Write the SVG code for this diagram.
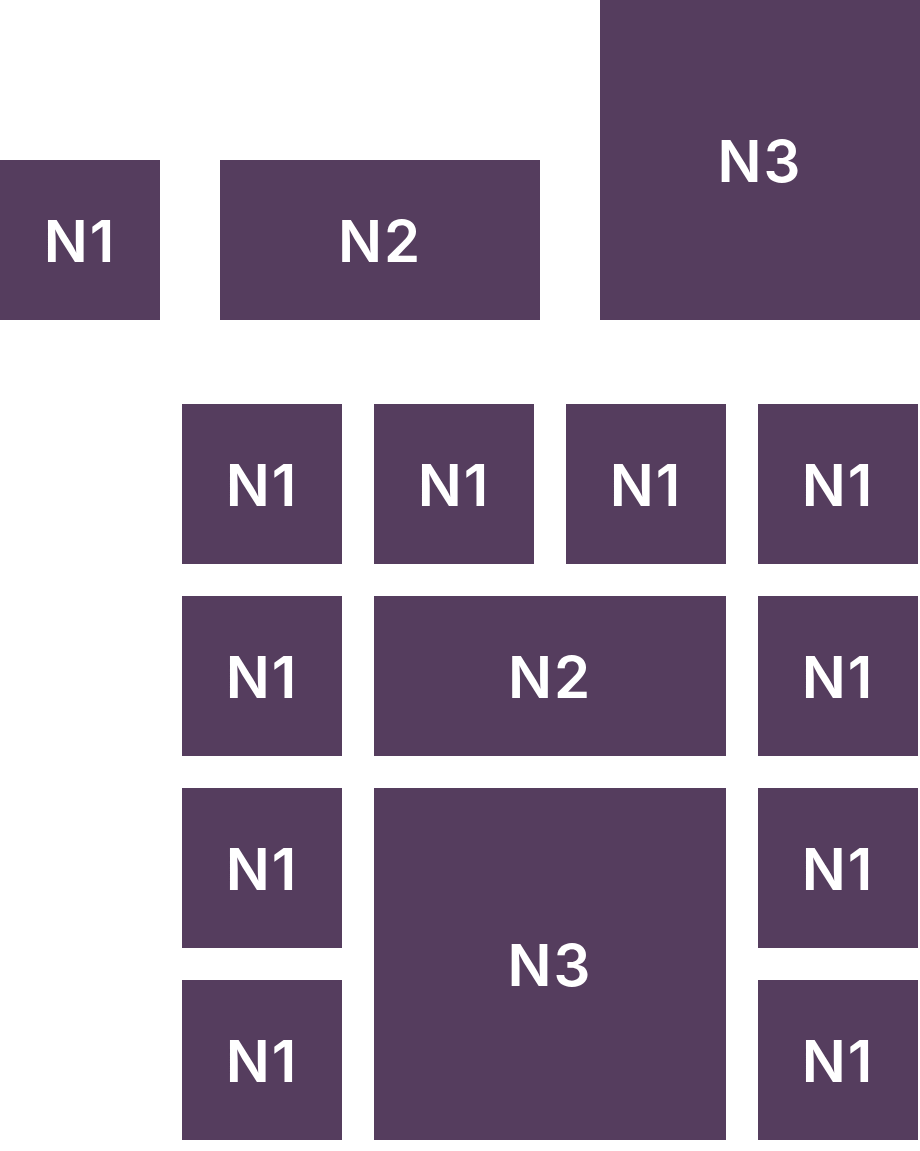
<svg xmlns="http://www.w3.org/2000/svg" width="920" height="1151" viewBox="0 0 920 1151">
<style>
.n{fill:#553D5E}
.t{fill:#fff;font-family:Inter,"Open Sans",sans-serif;font-weight:600;font-size:58px;text-anchor:middle;letter-spacing:2px}
.p{fill:#fff;font-family:Inter,"Open Sans",sans-serif;font-weight:600;font-size:34px}
.b{fill:none;stroke:#fff;stroke-width:2}
</style>
<rect width="920" height="1151" fill="#fff"/>
<g id="labels">
<text class="p" x="36" y="485">P1</text>
<text class="p" x="36" y="677">P2</text>
<text class="p" x="36" y="957">P3</text>
</g>
<g id="braces">
<path class="b" d="M153,394 Q140,396 140,410 L140,540 Q140,556 153,560"/>
<path class="b" d="M153,586 Q140,588 140,602 L140,732 Q140,748 153,752"/>
<path class="b" d="M153,778 Q140,780 140,794 L140,1124 Q140,1140 153,1144"/>
</g>
<g id="top-n1"><rect class="n" x="0" y="160" width="160" height="160"/><text class="t" x="80" y="262">N1</text></g>
<g id="top-n2"><rect class="n" x="220" y="160" width="320" height="160"/><text class="t" x="380" y="262">N2</text></g>
<g id="top-n3"><rect class="n" x="600" y="0" width="320" height="320"/><text class="t" x="760" y="182">N3</text></g>
<g id="r1c1"><rect class="n" x="182" y="404" width="160" height="160"/><text class="t" x="262" y="506">N1</text></g>
<g id="r1c2"><rect class="n" x="374" y="404" width="160" height="160"/><text class="t" x="454" y="506">N1</text></g>
<g id="r1c3"><rect class="n" x="566" y="404" width="160" height="160"/><text class="t" x="646" y="506">N1</text></g>
<g id="r1c4"><rect class="n" x="758" y="404" width="160" height="160"/><text class="t" x="838" y="506">N1</text></g>
<g id="r2c1"><rect class="n" x="182" y="596" width="160" height="160"/><text class="t" x="262" y="698">N1</text></g>
<g id="r2n2"><rect class="n" x="374" y="596" width="352" height="160"/><text class="t" x="550" y="698">N2</text></g>
<g id="r2c4"><rect class="n" x="758" y="596" width="160" height="160"/><text class="t" x="838" y="698">N1</text></g>
<g id="r3c1"><rect class="n" x="182" y="788" width="160" height="160"/><text class="t" x="262" y="890">N1</text></g>
<g id="r3n3"><rect class="n" x="374" y="788" width="352" height="352"/><text class="t" x="550" y="986">N3</text></g>
<g id="r3c4"><rect class="n" x="758" y="788" width="160" height="160"/><text class="t" x="838" y="890">N1</text></g>
<g id="r4c1"><rect class="n" x="182" y="980" width="160" height="160"/><text class="t" x="262" y="1082">N1</text></g>
<g id="r4c4"><rect class="n" x="758" y="980" width="160" height="160"/><text class="t" x="838" y="1082">N1</text></g>
<g id="connectors"></g>
</svg>
